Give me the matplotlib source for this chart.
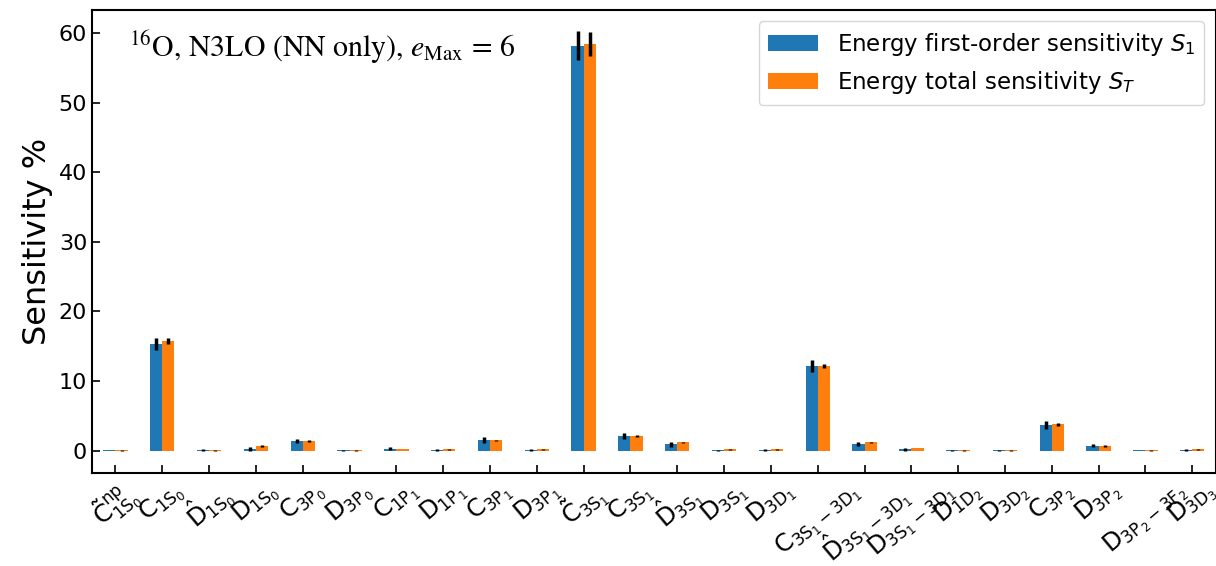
import numpy as np
import matplotlib
matplotlib.use("Agg")
import matplotlib.pyplot as plt

plt.rcParams['mathtext.fontset'] = 'dejavusans'
plt.rcParams['mathtext.default'] = 'regular'

# LEC labels (x axis)
labels = [r'$\tilde{C}^{np}_{1S_0}$', r'$C_{1S_0}$', r'$\hat{D}_{1S_0}$', r'$D_{1S_0}$',
          r'$C_{3P_0}$', r'$D_{3P_0}$', r'$C_{1P_1}$', r'$D_{1P_1}$',
          r'$C_{3P_1}$', r'$D_{3P_1}$', r'$\tilde{C}_{3S_1}$', r'$C_{3S_1}$',
          r'$\hat{D}_{3S_1}$', r'$D_{3S_1}$', r'$D_{3D_1}$', r'$C_{3S_1-3D_1}$',
          r'$\hat{D}_{3S_1-3D_1}$', r'$D_{3S_1-3D_1}$', r'$D_{1D_2}$', r'$D_{3D_2}$',
          r'$C_{3P_2}$', r'$D_{3P_2}$', r'$D_{3P_2-3F_2}$', r'$D_{3D_3}$']

# first-order sensitivity S1 and its error
s1 = [0.1, 15.3, 0.1, 0.3, 1.4, 0.05, 0.3, 0.1, 1.5, 0.1, 58.2, 2.1,
      0.9, 0.05, 0.1, 12.2, 1.0, 0.2, 0.05, 0.05, 3.7, 0.7, 0.1, 0.1]
s1_err = [0.05, 0.9, 0.1, 0.3, 0.3, 0.05, 0.2, 0.1, 0.4, 0.1, 2.1, 0.4,
          0.3, 0.05, 0.1, 0.9, 0.3, 0.2, 0.05, 0.05, 0.6, 0.2, 0.05, 0.1]

# total sensitivity ST and its error
st = [0.05, 15.75, 0.05, 0.7, 1.4, 0.05, 0.25, 0.2, 1.5, 0.2, 58.4, 2.1,
      1.2, 0.2, 0.2, 12.2, 1.2, 0.4, 0.05, 0.05, 3.8, 0.7, 0.05, 0.2]
st_err = [0.02, 0.4, 0.02, 0.1, 0.1, 0.02, 0.05, 0.05, 0.1, 0.05, 1.75, 0.1,
          0.1, 0.05, 0.05, 0.3, 0.1, 0.05, 0.02, 0.02, 0.2, 0.1, 0.02, 0.05]

x = np.arange(len(labels))
w = 0.26

fig = plt.figure(figsize=(12.16, 5.66), dpi=100)
ax = fig.add_axes([0.0757, 0.1643, 0.924, 0.818])

ax.bar(x - w/2, s1, w, yerr=s1_err, color='#1f77b4',
       error_kw=dict(elinewidth=2.5, ecolor='black', capsize=0),
       label=r'Energy first-order sensitivity $\mathit{S}_1$')
ax.bar(x + w/2, st, w, yerr=st_err, color='#ff7f0e',
       error_kw=dict(elinewidth=2.5, ecolor='black', capsize=0),
       label=r'Energy total sensitivity $\mathit{S}_\mathit{T}$')

ax.set_xlim(-0.5, 23.5)
ax.set_ylim(-3.2, 63.3)
ax.set_xticks(x)
ax.set_xticklabels(labels, rotation=40, ha='center', fontsize=17.5)
ax.tick_params(direction='in', length=6, width=1.2)
ax.tick_params(axis='x', pad=2)
ax.tick_params(axis='y', labelsize=16)
ax.set_ylabel('Sensitivity %', fontsize=23)
for s in ax.spines.values():
    s.set_linewidth(1.5)

ax.text(0.033, 0.96, r'$^{16}$O, N3LO (NN only), $\mathit{e}_{\mathrm{Max}}$ = 6',
        transform=ax.transAxes, fontsize=21.5, family='STIXGeneral', va='top',
        math_fontfamily='stix')

ax.legend(loc='upper right', fontsize=16.5, handlelength=2.2)

fig.savefig('out.png', dpi=100)
